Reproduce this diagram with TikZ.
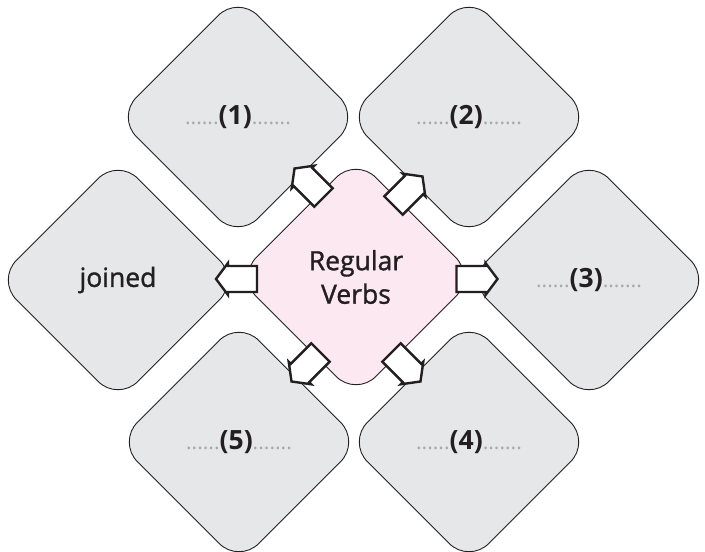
\documentclass[tikz,border=0pt]{standalone}
\usepackage{fontspec}
\setmainfont{Open Sans}
\newfontfamily\semib{Open Sans}[FakeBold=1.2]
\usetikzlibrary{shapes.geometric,calc}
\definecolor{boxgray}{HTML}{E6E7E8}
\definecolor{pinkc}{HTML}{FCE8F0}
\definecolor{ink}{HTML}{231F20}
\definecolor{dotgray}{HTML}{A7A9AC}
\newcommand{\dotsl}{{\fontsize{21}{25}\selectfont\color{dotgray}......}}
\newcommand{\dotsr}{{\fontsize{21}{25}\selectfont\color{dotgray}.......}}
\newcommand{\blanklab}[1]{\dotsl\textbf{#1}\dotsr}
\begin{document}
\begin{tikzpicture}[x=1pt,y=1pt,
  rbox/.style={diamond, draw=ink, line width=0.9pt, fill=boxgray,
    minimum width=243pt, minimum height=243pt, rounded corners=28pt,
    inner sep=0pt, text=ink, font=\fontsize{26.5}{33.5}\selectfont, align=center},
  hub/.style={rbox, fill=pinkc, minimum width=239pt, minimum height=239pt},
  wordtext/.style={font=\fontsize{26.5}{33.5}\selectfont\semib},
  arrowline/.style={draw=ink, fill=white, line width=2.4pt, miter limit=10},
  blockarrow/.pic={\path[arrowline] (-20.5,-13) -- (8.5,-13) -- (8.5,-16) -- (20.5,0) -- (8.5,16) -- (8.5,13) -- (-20.5,13) -- cycle;}
]
\useasboundingbox (0,0) rectangle (705,552);
\node[rbox] (b1) at (238,435) {\blanklab{(1)}};
\node[rbox] (b2) at (469,435) {\blanklab{(2)}};
\node[rbox, wordtext] (bj) at (118,272) {joined};
\node[rbox] (b3) at (589,272) {\blanklab{(3)}};
\node[rbox] (b5) at (239,110) {\blanklab{(5)}};
\node[rbox] (b4) at (469,110) {\blanklab{(4)}};
\node[hub, wordtext] (c) at (356,275) {Regular\\Verbs};
\pic[rotate=135] at ($(c)+(-47,94)$) {blockarrow};
\pic[rotate=45] at ($(c)+(52,86)$) {blockarrow};
\pic[rotate=180] at ($(c)+(-119.5,-2)$) {blockarrow};
\pic[rotate=0] at ($(c)+(121,-2)$) {blockarrow};
\pic[rotate=225] at ($(c)+(-50,-90)$) {blockarrow};
\pic[rotate=-45] at ($(c)+(50,-90)$) {blockarrow};
\end{tikzpicture}
\end{document}
